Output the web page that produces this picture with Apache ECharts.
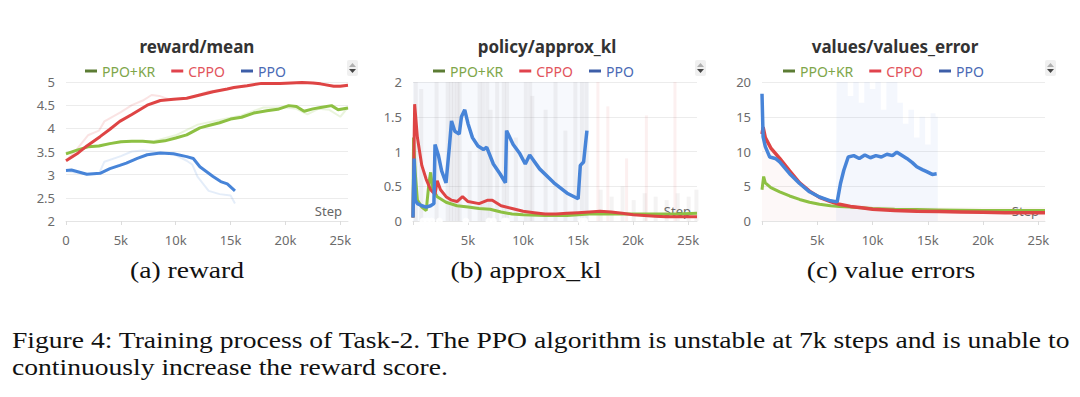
<!DOCTYPE html>
<html>
<head>
<meta charset="utf-8">
<script src="https://cdn.jsdelivr.net/npm/echarts@6/dist/echarts.min.js"></script>
<style>
  html, body { margin: 0; padding: 0; background: #fff; }
  #figure { width: 1080px; height: 397px; }
</style>
</head>
<body>
<div id="figure"></div>
<script>
  // (a) reward/mean
  const rewardKrSteps = [0, 1000, 2000, 3000, 4000, 5000, 6000, 7000, 8000, 9000, 10000, 11000, 12200, 13000, 14000, 15000, 16000, 17100, 18300, 19300, 20300, 21000, 21700, 22500, 23200, 24200, 24800, 25700]
  const rewardKrVals = [3.45, 3.53, 3.6, 3.62, 3.67, 3.71, 3.72, 3.72, 3.7, 3.73, 3.79, 3.86, 4.01, 4.06, 4.12, 4.2, 4.24, 4.33, 4.38, 4.41, 4.49, 4.47, 4.37, 4.42, 4.45, 4.49, 4.40, 4.44]
  const rewardCppoSteps = [0, 1000, 1900, 3100, 4000, 4900, 6000, 7400, 8600, 9800, 11000, 12200, 13400, 14700, 15300, 16500, 17800, 19500, 21500, 22500, 23200, 24400, 25000, 25700]
  const rewardCppoVals = [3.30, 3.45, 3.62, 3.82, 3.98, 4.15, 4.3, 4.5, 4.6, 4.63, 4.65, 4.72, 4.79, 4.85, 4.88, 4.92, 4.97, 4.97, 4.99, 4.98, 4.96, 4.91, 4.91, 4.93]
  const rewardPpoSteps = [0, 500, 1900, 3100, 4000, 4900, 5500, 6500, 7400, 8600, 9800, 11000, 11600, 12200, 13400, 14100, 14700, 15400]
  const rewardPpoVals = [3.09, 3.1, 3.01, 3.03, 3.13, 3.2, 3.25, 3.35, 3.43, 3.47, 3.45, 3.39, 3.35, 3.17, 2.96, 2.85, 2.8, 2.65]
  // faint raw curves behind the smoothed ones
  const rewardKrRawSteps = [0, 2000, 4000, 6000, 8000, 10000, 12000, 14000, 16000, 18000, 20000, 21000, 22000, 23000, 24000, 25000, 25700]
  const rewardKrRawVals = [3.45, 3.6, 3.68, 3.72, 3.72, 3.85, 4.08, 4.18, 4.28, 4.45, 4.45, 4.42, 4.3, 4.42, 4.4, 4.25, 4.45]
  const rewardCppoRawSteps = [0, 1000, 2000, 3000, 3500, 5000, 6000, 7000, 7800, 8500, 9500, 11000, 12000, 13000, 14000, 16000, 18000, 20000, 22000, 24000, 25700]
  const rewardCppoRawVals = [3.3, 3.55, 3.85, 3.95, 4.15, 4.35, 4.5, 4.6, 4.72, 4.7, 4.62, 4.65, 4.72, 4.8, 4.82, 4.9, 4.96, 4.97, 4.99, 4.92, 4.93]
  const rewardPpoRawSteps = [0, 1500, 3000, 3500, 5000, 6000, 7000, 8000, 9000, 10000, 11000, 11500, 12000, 13000, 14000, 15000, 15400]
  const rewardPpoRawVals = [3.08, 3.02, 3.02, 3.28, 3.4, 3.5, 3.52, 3.5, 3.47, 3.42, 3.3, 3.22, 2.95, 2.65, 2.58, 2.55, 2.38]

  // (b) policy/approx_kl
  const klKrSteps = [0, 50, 200, 400, 800, 1200, 1450, 1600, 1800, 2200, 3000, 4000, 5000, 6000, 7000, 8000, 9000, 10000, 12000, 14000, 16000, 18000, 20000, 22000, 24000, 25800]
  const klKrVals = [0.05, 1.2, 0.7, 0.3, 0.2, 0.15, 0.55, 0.7, 0.45, 0.35, 0.27, 0.22, 0.2, 0.18, 0.17, 0.13, 0.1, 0.09, 0.08, 0.08, 0.1, 0.1, 0.1, 0.1, 0.1, 0.11]
  const klCppoSteps = [0, 150, 400, 800, 1200, 1600, 2000, 2200, 2500, 3000, 3500, 4000, 4500, 5000, 6000, 6800, 7200, 8000, 9000, 10000, 11000, 12000, 13000, 14000, 15000, 16000, 17000, 18000, 19000, 20000, 21000, 22000, 23000, 24000, 25000, 25800]
  const klCppoVals = [0.05, 1.68, 1.2, 0.8, 0.6, 0.45, 0.38, 0.58, 0.45, 0.35, 0.3, 0.28, 0.35, 0.28, 0.25, 0.3, 0.3, 0.22, 0.18, 0.14, 0.12, 0.1, 0.1, 0.11, 0.12, 0.13, 0.14, 0.13, 0.11, 0.09, 0.08, 0.07, 0.06, 0.06, 0.06, 0.06]
  const klPpoSteps = [0, 100, 200, 400, 800, 1200, 1600, 1900, 2000, 2300, 2600, 3000, 3300, 3500, 3800, 4200, 4400, 4700, 5000, 5400, 5900, 6400, 6700, 7300, 7900, 8400, 8500, 9100, 9700, 10200, 10600, 11500, 12800, 14000, 15000, 15200, 15500, 15800]
  const klPpoVals = [0.05, 0.9, 0.3, 0.25, 0.22, 0.2, 0.22, 0.25, 1.1, 0.95, 0.72, 0.55, 1.06, 1.44, 1.29, 1.25, 1.5, 1.6, 1.4, 1.2, 1.08, 1.03, 1.06, 0.82, 0.68, 0.55, 1.3, 1.1, 0.97, 0.82, 0.95, 0.75, 0.55, 0.4, 0.32, 0.8, 0.85, 1.3]
  const klRawSteps = [200, 700, 2100, 3100, 3400, 3700, 4000, 4200, 5100, 6000, 6300, 6700, 7000, 7600, 8200, 8500, 9300, 10200, 10600, 10800, 12000, 12900, 13800, 14700, 15300, 15700, 17000, 18000, 19000, 20000, 21000, 22000, 23000, 24000, 25000, 25700]
  const klRawVals = [2, 1.9, 2, 2, 2, 2, 2, 2, 1.0, 2, 2, 2, 1.6, 2, 2, 2, 1.2, 2, 2, 1.8, 1.6, 2, 1.3, 2, 2, 2, 0.45, 0.35, 0.5, 0.3, 0.4, 0.35, 0.3, 0.4, 0.35, 0.45]
  const klCppoRawSteps = [16800, 17700, 19400, 21200, 23800]
  const klCppoRawVals = [2, 1.65, 0.9, 1.52, 2]
  const klPpoNanSteps = [900, 1300, 4800, 6900, 7300, 8300, 8500, 15300, 15600]
  const klCppoNanSteps = [1700, 2400]

  // (c) values/values_error
  const veKrSteps = [0, 150, 300, 800, 1600, 2500, 3400, 4300, 5200, 6200, 7000, 8000, 10000, 12000, 14000, 16000, 18000, 20000, 22000, 24000, 25600]
  const veKrVals = [4.5, 6.4, 5.5, 4.8, 4.2, 3.6, 3.1, 2.7, 2.4, 2.2, 2.1, 2.0, 1.8, 1.7, 1.65, 1.6, 1.55, 1.5, 1.5, 1.5, 1.5]
  const veCppoSteps = [0, 100, 300, 800, 1600, 2500, 3400, 4300, 5200, 6200, 7000, 8000, 9000, 10000, 12000, 14000, 16000, 18000, 20000, 22000, 24000, 25600]
  const veCppoVals = [12.5, 13.5, 12, 10.5, 9, 7.2, 5.5, 4.3, 3.4, 2.8, 2.4, 2.1, 1.9, 1.7, 1.5, 1.4, 1.35, 1.3, 1.25, 1.2, 1.2, 1.2]
  const vePpoSteps = [0, 100, 300, 700, 1200, 1600, 2500, 3400, 4300, 5200, 6200, 6800, 7100, 7400, 7800, 8300, 8800, 9300, 9800, 10300, 10800, 11300, 11800, 12200, 12600, 13100, 13600, 14000, 14500, 14900, 15400, 15800]
  const vePpoVals = [18.3, 12.1, 10.7, 9.2, 9.0, 8.5, 6.8, 5.4, 4.2, 3.45, 2.9, 2.75, 5.4, 7.3, 9.2, 9.4, 9.0, 9.5, 9.1, 9.4, 9.2, 9.6, 9.4, 9.9, 9.5, 9.0, 8.4, 7.8, 7.4, 7.1, 6.7, 6.8]
  const vePpoRawSteps = [6700, 6800, 7500, 8000, 8500, 9000, 9500, 10000, 10500, 11000, 11500, 12000, 12500, 13000, 13500, 14000, 14500, 15000, 15500, 15900]
  const vePpoRawVals = [3, 20, 20, 18, 20, 17, 20, 19, 20, 16, 20, 20, 17, 14, 16, 12, 15, 11, 15.5, 15]
  const veCppoRawSteps = [0, 300, 800, 1500, 2500, 3500, 4500, 5500, 6500, 8000, 10000, 15000, 20000, 25600]
  const veCppoRawVals = [13, 12, 11, 9, 7, 5.5, 4, 3.2, 2.7, 2.5, 2.2, 2.0, 2.0, 2.0]

  const seriesNames = ['PPO+KR', 'CPPO', 'PPO']
  const lineColors = ['#8dc043', '#de4444', '#4784d8']
  const iconColors = ['#5c7c34', '#e0434d', '#3d5ea8']
  const textColors = ['#7ea64a', '#e2545c', '#4a6ab5']

  function zip(xs, ys) {
    return xs.map((x, i) => [x, ys[i]])
  }

  // plot boxes
  const grids = [
    { left: 66, top: 82, width: 282, height: 139 },
    { left: 413, top: 82, width: 284, height: 139 },
    { left: 762, top: 82, width: 283, height: 139 }
  ]
  const xMax = [25700, 25800, 25600]
  const titles = ['reward/mean', 'policy/approx_kl', 'values/values_error']
  const titleX = [192, 542, 890]
  const legendX = [80, 428, 778]
  const yAxes = [
    { min: 2, max: 5, interval: 0.5 },
    { min: 0, max: 2, interval: 0.5 },
    { min: 0, max: 20, interval: 5 }
  ]

  const font = 'Noto Sans'
  const serif = '"Liberation Serif"'
  const chart = echarts.init(document.getElementById('figure'), null, { renderer: 'svg' })

  function mainLine(name, idx, data, w) {
    return {
      name: name, type: 'line', xAxisIndex: idx, yAxisIndex: idx,
      data: data, showSymbol: false, z: 5,
      lineStyle: { width: w || 3, color: lineColors[seriesNames.indexOf(name)] },
      itemStyle: { color: lineColors[seriesNames.indexOf(name)] }
    }
  }
  function faintLine(color, idx, data, opacity) {
    return {
      type: 'line', xAxisIndex: idx, yAxisIndex: idx, data: data, showSymbol: false, silent: true, z: 2,
      lineStyle: { width: 2, color: color, opacity: opacity }
    }
  }
  function captionText(text, x, y, align) {
    return {
      type: 'text', x: x, y: y, scaleX: 1.2,
      style: { text: text, font: '23px ' + serif, fill: '#111', textAlign: align, textVerticalAlign: 'middle' }
    }
  }

  let option = {
    animation: false,
    textStyle: { fontFamily: font },
    title: titles.map((t, i) => ({
      text: t, left: titleX[i], top: 33, textAlign: 'center',
      textStyle: { fontSize: 17, fontWeight: 'bold', color: '#333', fontFamily: font }
    })),
    legend: legendX.map((x, i) => ({
      left: x, top: 59, icon: 'rect', itemWidth: 12, itemHeight: 3, itemGap: 16,
      data: seriesNames.map((n, k) => ({
        name: n, itemStyle: { color: iconColors[k] }, textStyle: { color: textColors[k] }
      })),
      textStyle: { fontSize: 14, fontFamily: font },
      selectedMode: false
    })),
    grid: grids,
    xAxis: grids.map((g, i) => ({
      type: 'value', gridIndex: i, min: 0, max: xMax[i], interval: 5000,
      name: 'Step', nameLocation: 'end', nameGap: -6,
      nameTextStyle: { align: 'right', verticalAlign: 'bottom', color: '#666', fontSize: 13, padding: [0, 0, 4, 0] },
      axisLine: { lineStyle: { color: '#e4e4e4' } },
      axisTick: { show: true, length: 4, lineStyle: { color: '#dcdcdc' } },
      splitLine: { show: false },
      axisLabel: {
        color: '#6b6b6b', fontSize: 13, margin: 12, showMaxLabel: false,
        formatter: v => v === 0 ? (i === 0 ? '0' : '') : (v / 1000) + 'k'
      }
    })),
    yAxis: yAxes.map((y, i) => ({
      type: 'value', gridIndex: i, min: y.min, max: y.max, interval: y.interval,
      axisLine: { show: false }, axisTick: { show: false },
      splitLine: { lineStyle: { color: '#ececec' } },
      axisLabel: { color: '#6b6b6b', fontSize: 13, margin: 11 }
    })),
    series: [
      // (a)
      faintLine(lineColors[0], 0, zip(rewardKrRawSteps, rewardKrRawVals), 0.18),
      faintLine(lineColors[1], 0, zip(rewardCppoRawSteps, rewardCppoRawVals), 0.15),
      faintLine(lineColors[2], 0, zip(rewardPpoRawSteps, rewardPpoRawVals), 0.15),
      mainLine('PPO+KR', 0, zip(rewardKrSteps, rewardKrVals)),
      mainLine('CPPO', 0, zip(rewardCppoSteps, rewardCppoVals)),
      mainLine('PPO', 0, zip(rewardPpoSteps, rewardPpoVals)),
      // (b)
      {
        type: 'bar', xAxisIndex: 1, yAxisIndex: 1, barWidth: 4, silent: true, z: 1,
        data: zip(klRawSteps, klRawVals),
        itemStyle: { color: 'rgba(150,140,140,0.1)' },
        markArea: {
          silent: true,
          itemStyle: { color: 'rgba(120,160,220,0.06)' },
          data: [[{ xAxis: 0 }, { xAxis: 16000 }]]
        }
      },
      {
        type: 'bar', xAxisIndex: 1, yAxisIndex: 1, barWidth: 3, silent: true, z: 1, barGap: '-100%',
        data: zip(klCppoRawSteps, klCppoRawVals),
        itemStyle: { color: 'rgba(222,68,68,0.08)' }
      },
      mainLine('PPO+KR', 1, zip(klKrSteps, klKrVals)),
      mainLine('CPPO', 1, zip(klCppoSteps, klCppoVals)),
      mainLine('PPO', 1, zip(klPpoSteps, klPpoVals), 3.5),
      {
        type: 'scatter', xAxisIndex: 1, yAxisIndex: 1, symbol: 'emptyCircle', symbolSize: 5, z: 6,
        data: klPpoNanSteps.map(s => [s, 0]),
        itemStyle: { color: '#fff', borderColor: '#6d8fd0', borderWidth: 1 }
      },
      {
        type: 'scatter', xAxisIndex: 1, yAxisIndex: 1, symbol: 'emptyCircle', symbolSize: 5, z: 6,
        data: klCppoNanSteps.map(s => [s, 0]),
        itemStyle: { color: '#fff', borderColor: '#e07a80', borderWidth: 1 }
      },
      // (c)
      {
        type: 'line', xAxisIndex: 2, yAxisIndex: 2, step: 'middle', showSymbol: false, silent: true, z: 1,
        data: zip(vePpoRawSteps, vePpoRawVals),
        lineStyle: { width: 0 }, areaStyle: { color: 'rgba(120,160,225,0.12)' }
      },
      {
        type: 'line', xAxisIndex: 2, yAxisIndex: 2, showSymbol: false, silent: true, z: 1,
        data: zip(veCppoRawSteps, veCppoRawVals),
        lineStyle: { width: 0 }, areaStyle: { color: 'rgba(222,130,130,0.08)' }
      },
      mainLine('PPO+KR', 2, zip(veKrSteps, veKrVals)),
      mainLine('CPPO', 2, zip(veCppoSteps, veCppoVals), 3.5),
      mainLine('PPO', 2, zip(vePpoSteps, vePpoVals), 3.5)
    ],
    graphic: [
      // scroll arrows beside each legend
      ...[352, 700, 1050].map(x => ({
        type: 'group', left: x - 5, top: 60,
        children: [
          { type: 'rect', shape: { x: 0, y: 0, width: 11, height: 16, r: 2 }, style: { fill: '#f0f0f0' } },
          { type: 'polygon', shape: { points: [[2, 7], [5.5, 3], [9, 7]] }, style: { fill: '#b0b0b0' } },
          { type: 'polygon', shape: { points: [[2, 9], [5.5, 13], [9, 9]] }, style: { fill: '#444' } }
        ]
      })),
      captionText('(a) reward', 187, 270, 'center'),
      captionText('(b) approx_kl', 526, 270, 'center'),
      captionText('(c) value errors', 891, 270, 'center'),
      captionText('Figure 4: Training process of Task-2. The PPO algorithm is unstable at 7k steps and is unable to', 12, 340, 'left'),
      captionText('continuously increase the reward score.', 12, 367, 'left')
    ]
  }

  chart.setOption(option)
</script>
</body>
</html>
